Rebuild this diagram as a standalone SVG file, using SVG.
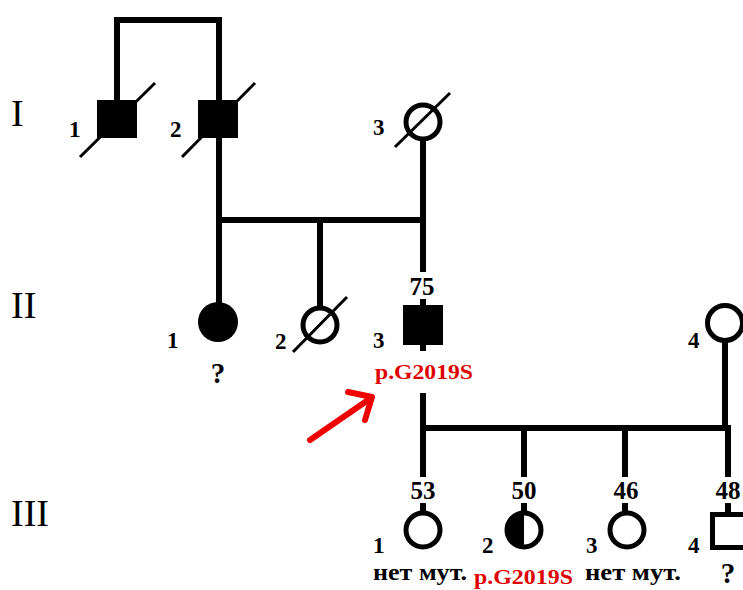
<svg xmlns="http://www.w3.org/2000/svg" width="743" height="590" viewBox="0 0 743 590">
  <style>
    .ln { fill: none; stroke: #000; stroke-width: 6; }
    .sl { fill: none; stroke: #000; stroke-width: 3; }
    .ring { fill: #fff; stroke: #000; stroke-width: 5; }
    .gen { font-family: "Liberation Serif", serif; font-size: 38px; fill: #000; }
    .num { font-family: "Liberation Serif", serif; font-weight: bold; font-size: 23px; fill: #000; }
    .age { font-family: "Liberation Serif", serif; font-weight: bold; font-size: 25px; fill: #000; text-anchor: middle; }
    .note { font-family: "Liberation Serif", serif; font-weight: bold; font-size: 24px; fill: #000; }
    .mut { font-family: "Liberation Serif", serif; font-weight: bold; font-size: 21px; fill: #e00000; }
    .q { font-family: "Liberation Serif", serif; font-weight: bold; font-size: 29px; fill: #000; text-anchor: middle; }
  </style>
  <rect width="743" height="590" fill="#fff"/>

  <!-- generation labels -->
  <g id="generations">
    <text class="gen" x="11" y="126">I</text>
    <text class="gen" x="11" y="318">II</text>
    <text class="gen" x="11" y="526">III</text>
  </g>

  <!-- lines of descent and marriage -->
  <g id="connectors">
    <path class="ln" d="M117,102 V20 H219 V102"/>
    <path class="ln" d="M219,136 V304"/>
    <path class="ln" d="M216,220 H426"/>
    <path class="ln" d="M423,138 V272"/>
    <path class="ln" d="M423,299 V306"/>
    <path class="ln" d="M320,220 V306"/>
    <path class="ln" d="M423,344 V351"/>
    <path class="ln" d="M423,393 V428"/>
    <path class="ln" d="M420,428 H731"/>
    <path class="ln" d="M725,338 V428"/>
    <path class="ln" d="M423,428 V477 M423,503 V512"/>
    <path class="ln" d="M524,428 V477 M524,503 V512"/>
    <path class="ln" d="M625,428 V477 M625,503 V512"/>
    <path class="ln" d="M728,428 V477 M728,503 V513"/>
  </g>

  <!-- generation I -->
  <g id="I-1">
    <rect x="97" y="100" width="40" height="38" fill="#000"/>
    <line class="sl" x1="80" y1="157" x2="155" y2="83"/>
    <text class="num" x="69" y="137">1</text>
  </g>
  <g id="I-2">
    <rect x="198" y="100" width="40" height="38" fill="#000"/>
    <line class="sl" x1="182" y1="157" x2="255" y2="83"/>
    <text class="num" x="170" y="137">2</text>
  </g>
  <g id="I-3">
    <circle class="ring" cx="423" cy="122" r="17"/>
    <line class="sl" x1="395" y1="147" x2="450" y2="93"/>
    <text class="num" x="373" y="135">3</text>
  </g>

  <!-- generation II -->
  <g id="II-1">
    <circle cx="218" cy="322" r="20" fill="#000"/>
    <text class="num" x="167" y="348">1</text>
    <text class="q" x="218" y="383">?</text>
  </g>
  <g id="II-2">
    <circle class="ring" cx="320" cy="325" r="17"/>
    <line class="sl" x1="293" y1="352" x2="347" y2="297"/>
    <text class="num" x="275" y="349">2</text>
  </g>
  <g id="II-3">
    <text class="age" x="422" y="295">75</text>
    <rect x="403" y="305" width="40" height="40" fill="#000"/>
    <text class="num" x="373" y="348">3</text>
    <text class="mut" x="375" y="379" textLength="98" lengthAdjust="spacingAndGlyphs">p.G2019S</text>
  </g>
  <g id="II-4">
    <circle class="ring" cx="725" cy="323" r="17.5"/>
    <text class="num" x="688" y="348">4</text>
  </g>

  <!-- proband arrow -->
  <g id="proband-arrow" fill="none" stroke="#f00000" stroke-width="6" stroke-linecap="round" stroke-linejoin="round">
    <line x1="310" y1="440" x2="371" y2="398"/>
    <polyline points="348,392 372,397 365,420"/>
  </g>

  <!-- generation III -->
  <g id="III-1">
    <text class="age" x="423" y="499">53</text>
    <circle class="ring" cx="423" cy="530" r="17"/>
    <text class="num" x="373" y="553">1</text>
    <text class="note" x="373" y="580" textLength="94" lengthAdjust="spacingAndGlyphs">нет мут.</text>
  </g>
  <g id="III-2">
    <text class="age" x="524" y="499">50</text>
    <circle class="ring" cx="524" cy="530" r="17"/>
    <path d="M524,513 A17,17 0 0 0 524,547 Z" fill="#000"/>
    <text class="num" x="482" y="553">2</text>
    <text class="mut" x="474" y="584" textLength="99" lengthAdjust="spacingAndGlyphs">p.G2019S</text>
  </g>
  <g id="III-3">
    <text class="age" x="626" y="499">46</text>
    <circle class="ring" cx="627" cy="530" r="17"/>
    <text class="num" x="586" y="553">3</text>
    <text class="note" x="585" y="580" textLength="96" lengthAdjust="spacingAndGlyphs">нет мут.</text>
  </g>
  <g id="III-4">
    <text class="age" x="728" y="499">48</text>
    <rect class="ring" x="712.5" y="514.5" width="35" height="33"/>
    <text class="num" x="688" y="553">4</text>
    <text class="q" x="728" y="583">?</text>
  </g>
</svg>
